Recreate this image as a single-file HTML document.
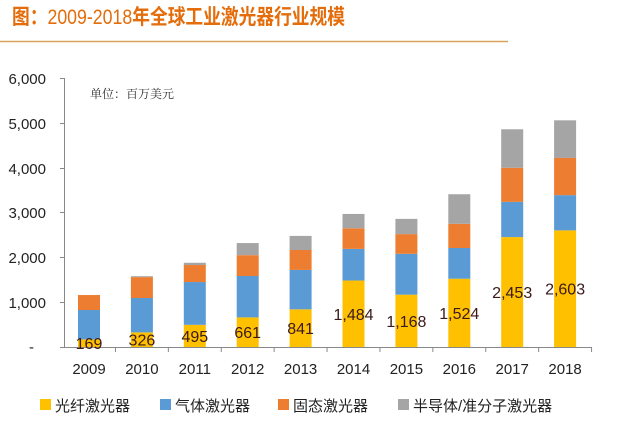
<!DOCTYPE html>
<html><head><meta charset="utf-8"><style>
body{margin:0;background:#fff;width:640px;height:443px;overflow:hidden}
</style></head><body>
<svg width="640" height="443" xmlns="http://www.w3.org/2000/svg" font-family="Liberation Sans, Noto Sans CJK SC, sans-serif">
<text x="12" y="24" font-size="21" fill="#e46c0a" textLength="333" lengthAdjust="spacingAndGlyphs" font-family="Liberation Sans, Noto Sans CJK SC, sans-serif" font-weight="bold">图：<tspan font-weight="normal">2009-2018</tspan>年全球工业激光器行业规模</text>
<line x1="0" y1="41.5" x2="508" y2="41.5" stroke="#d9a25a" stroke-width="1.5"/>
<text x="90" y="98" font-size="12" fill="#333" font-family="Noto Serif CJK SC, serif">单位：百万美元</text>
<g font-size="15" fill="#222" text-anchor="end">
<text x="46" y="84">6,000</text><text x="46" y="129">5,000</text><text x="46" y="174">4,000</text>
<text x="46" y="218">3,000</text><text x="46" y="263">2,000</text><text x="46" y="308">1,000</text><text x="34" y="352">-</text>
</g>
<g stroke="#888" stroke-width="1">
<line x1="64.5" y1="78" x2="64.5" y2="347"/>
<line x1="60" y1="78.5" x2="64" y2="78.5"/><line x1="60" y1="123.5" x2="64" y2="123.5"/><line x1="60" y1="168.5" x2="64" y2="168.5"/><line x1="60" y1="212.5" x2="64" y2="212.5"/><line x1="60" y1="257.5" x2="64" y2="257.5"/><line x1="60" y1="302.5" x2="64" y2="302.5"/>
<line x1="60" y1="347.5" x2="592" y2="347.5"/>
</g>
<g id="bars"></g>
<g id="ticks" stroke="#888"></g>
<g id="labels" font-size="16" fill="#3a1a1a" text-anchor="middle"></g>
<g font-size="15" fill="#222" text-anchor="middle" id="years"></g>
<g font-size="15" fill="#222" font-family="Liberation Sans, Noto Sans CJK SC, sans-serif">
<rect x="40" y="399" width="11" height="11" fill="#ffc000"/><text x="55" y="411">光纤激光器</text>
<rect x="160" y="399" width="11" height="11" fill="#5b9bd5"/><text x="175" y="411">气体激光器</text>
<rect x="278" y="399" width="11" height="11" fill="#ed7d31"/><text x="293" y="411">固态激光器</text>
<rect x="398" y="399" width="11" height="11" fill="#a5a5a5"/><text x="413" y="411">半导体/准分子激光器</text>
</g>
<script>
var d=[[169,826,1160,1160],[326,1094,1560,1580],[495,1450,1830,1880],[661,1585,2050,2320],[841,1720,2165,2480],[1484,2190,2650,2970],[1168,2080,2520,2860],[1524,2210,2750,3410],[2453,3240,4000,4860],[2603,3390,4220,5060]];
var c=["#ffc000","#5b9bd5","#ed7d31","#a5a5a5"],ns="http://www.w3.org/2000/svg",k=44.8,b=347;
function el(t,a,p){var e=document.createElementNS(ns,t);for(var i in a)e.setAttribute(i,a[i]);document.getElementById(p).appendChild(e);return e}
d.forEach(function(r,i){var cx=89+i*52.9,prev=0;
r.forEach(function(v,j){if(v>prev)el("rect",{x:cx-11,y:b-v*k/1000,width:22,height:(v-prev)*k/1000,fill:c[j]},"bars");prev=v;});
var t=el("text",{x:cx,y:Math.min(b-r[0]*k/2000+6,352)},"labels");t.textContent=r[0].toLocaleString("en-US");
var y=el("text",{x:cx,y:374},"years");y.textContent=2009+i;
el("line",{x1:cx+26.45,y1:347,x2:cx+26.45,y2:352},"ticks");});
</script>
</svg>
</body></html>
